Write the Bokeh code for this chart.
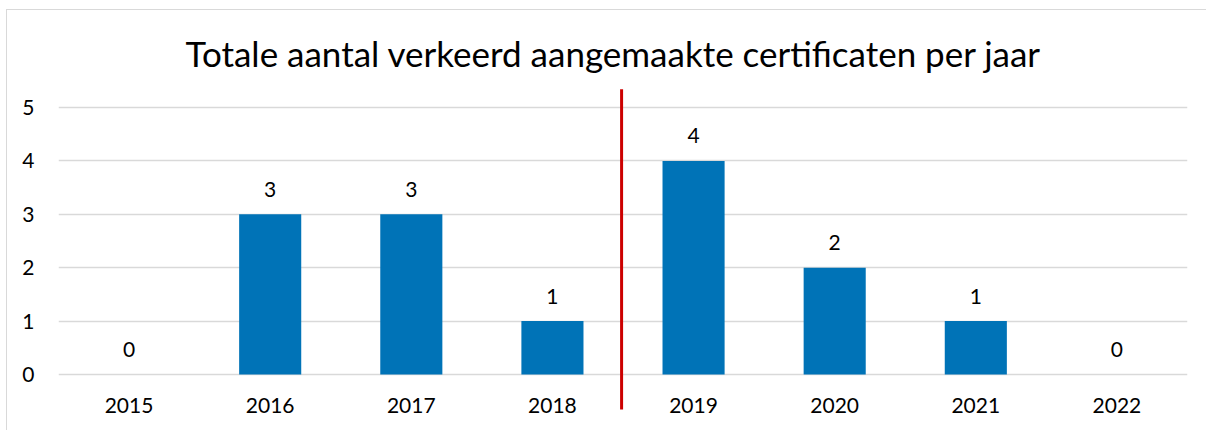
from bokeh.plotting import figure
from bokeh.models import ColumnDataSource, FixedTicker, Range1d, FactorRange
from bokeh.core.properties import value
from bokeh.embed import file_html
from bokeh.resources import INLINE

years = ["2015", "2016", "2017", "2018", "2019", "2020", "2021", "2022"]
counts = [0, 3, 3, 1, 4, 2, 1, 0]
y_ticks = [0, 1, 2, 3, 4, 5]
title_text = "Totale aantal verkeerd aangemaakte certificaten per jaar"
split_year = "2019"

FONT = "Lato"
TXT = "#000000"
src = ColumnDataSource(dict(year=years, count=counts, label=[str(c) for c in counts]))

p = figure(
    x_range=FactorRange(*years), y_range=Range1d(-0.936, 5.431),
    width=1210, height=432, output_backend="svg", toolbar_location=None,
    min_border_left=51, min_border_right=30, min_border_top=74, min_border_bottom=18,
)
p.title.text = title_text
p.title.text_font = FONT
p.title.text_font_size = "35px"
p.title.text_font_style = "normal"
p.title.text_color = TXT
p.title.align = "left"
p.title.offset = 127
p.title.standoff = 21

p.vbar(x="year", top="count", width=0.44, source=src, color="#0073B7", line_color=None)
p.text(x="year", y="count", text="label", source=src, text_align="center",
       text_baseline="middle", y_offset=-25, text_font=value(FONT),
       text_font_size="21px", text_color=TXT)

# separator line between the periods (at the boundary before split_year)
split = years.index(split_year) - 0.01
p.segment(x0=[split], x1=[split], y0=[5.34], y1=[-0.655], line_color="#CC0000", line_width=3)

p.yaxis.ticker = FixedTicker(ticks=y_ticks)
p.ygrid.ticker = FixedTicker(ticks=y_ticks)
p.xaxis.fixed_location = 0
for ax in (p.xaxis, p.yaxis):
    ax.axis_line_color = None
    ax.major_tick_line_color = None
    ax.minor_tick_line_color = None
    ax.major_tick_out = 0
    ax.major_tick_in = 0
    ax.major_label_text_font = FONT
    ax.major_label_text_font_size = "21px"
    ax.major_label_text_color = TXT
p.yaxis.major_label_standoff = 24
p.xaxis.major_label_standoff = 23
p.xgrid.grid_line_color = None
p.ygrid.grid_line_color = "#d9d9d9"
p.ygrid.grid_line_width = 1.5
p.outline_line_color = None
p.styles = {"border": "1px solid #d9d9d9", "margin-left": "6px", "margin-top": "9px"}

open("out.html", "w").write(file_html(p, INLINE))
